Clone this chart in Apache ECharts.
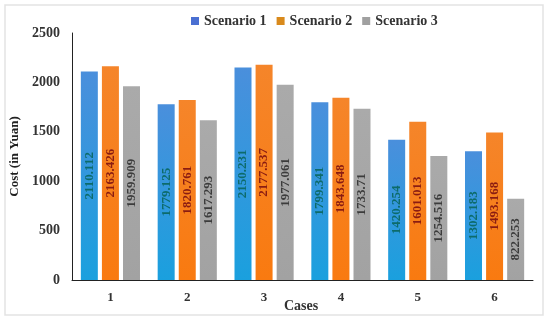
<!DOCTYPE html>
<html><head><meta charset="utf-8">
<script src="https://cdn.jsdelivr.net/npm/echarts@6/dist/echarts.min.js"></script>
<style>html,body{margin:0;padding:0;background:#fff}#c{width:550px;height:321px}</style>
</head><body><div id="c"></div>
<script>
const categories = ['1','2','3','4','5','6'];
const scenario1 = [2110.112, 1779.125, 2150.231, 1799.341, 1420.254, 1302.183];
const scenario2 = [2163.426, 1820.761, 2177.537, 1843.648, 1601.013, 1493.168];
const scenario3 = [1959.909, 1617.293, 1977.061, 1733.71, 1254.516, 822.253];
const seriesNames = ['Scenario 1','Scenario 2','Scenario 3'];
const yTicks = {min:0, max:2500, interval:500};
const xAxisTitle = 'Cases';

const font = '"Liberation Serif", "Times New Roman", serif';
const labelColors = ['#0d6b6b', '#8a1c12', '#3c3c3c'];
const legendColors = ['#4a6fd2', '#d98a1c', '#a0a0a0'];
const grads = [
  ['#4a8fdc', '#1aa0de'],
  ['#f5852a', '#f97a10'],
  ['#aaaaaa', '#a2a2a2']
];
function mk(i, data){
  return {
    name: seriesNames[i], type:'bar', data: data, barWidth: 17,
    barGap: '24%',
    itemStyle: { color: new echarts.graphic.LinearGradient(0,0,0,1,[{offset:0,color:grads[i][0]},{offset:1,color:grads[i][1]}]) },
    label: { show:true, position:'inside', rotate:90, color: labelColors[i],
      fontFamily: font, fontWeight:'bold', fontSize:13,
      formatter: p => String(p.value) }
  };
}
const chart = echarts.init(document.getElementById('c'));
chart.setOption({
  animation:false,
  graphic: [
    { type:'rect', shape:{x:5, y:5, width:538, height:310}, style:{fill:'none', stroke:'#e3e3e3', lineWidth:1.5}, silent:true },
    { type:'text', left:284, top:299, style:{ text: xAxisTitle, fontFamily: font, fontWeight:'bold', fontSize:14, fill:'#333' }, silent:true }
  ],
  legend: { top: 9, left: 186, itemWidth: 8, itemHeight: 8, itemGap: 10,
    icon:'rect',
    data: seriesNames.map((n,i)=>({name:n, itemStyle:{color:legendColors[i]}})),
    textStyle:{ fontFamily: font, fontWeight:'bold', fontSize:14, color:'#333' } },
  grid: { left:72, right:17, top:33, bottom:41, containLabel:false, outerBoundsMode:'none' },
  xAxis: { type:'category', data: categories,
    axisLine:{ lineStyle:{ color:'#222', width:1 } }, axisTick:{show:false},
    axisLabel:{ fontFamily: font, fontWeight:'bold', fontSize:13, color:'#333', margin:11 } },
  yAxis: { type:'value', min: yTicks.min, max: yTicks.max, interval: yTicks.interval,
    name:'Cost (in Yuan)', nameLocation:'middle', nameGap:47,
    nameTextStyle:{ fontFamily: font, fontWeight:'bold', fontSize:13, color:'#222' },
    axisLine:{ show:true, lineStyle:{ color:'#222', width:1 } }, axisTick:{show:false},
    splitLine:{show:false},
    axisLabel:{ fontFamily: font, fontWeight:'bold', fontSize:14, color:'#333', margin:12,
      formatter: v => String(v) } },
  series: [mk(0, scenario1), mk(1, scenario2), mk(2, scenario3)]
});
</script></body></html>
